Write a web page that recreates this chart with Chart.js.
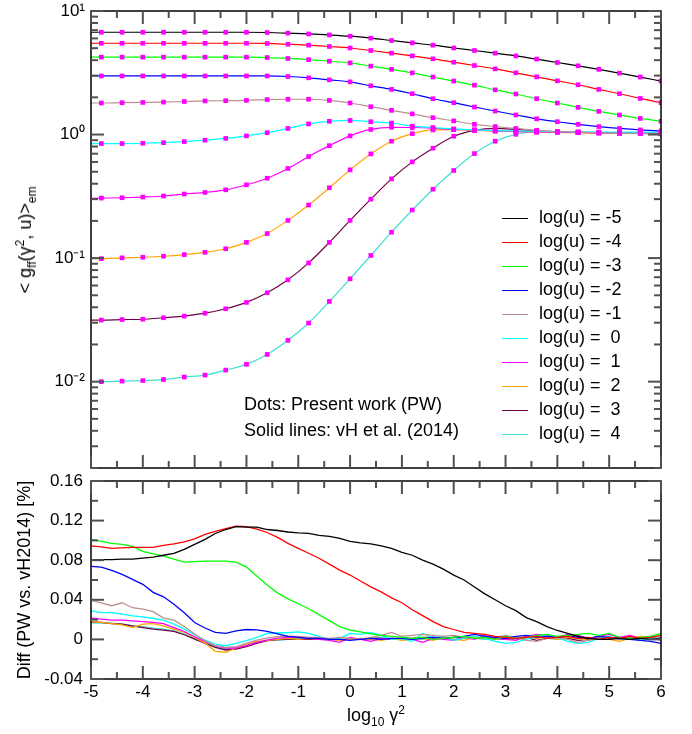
<!DOCTYPE html>
<html>
<head>
<meta charset="utf-8">
<script src="https://cdn.jsdelivr.net/npm/chart.js@4.4.1/dist/chart.umd.min.js"></script>
<style>
  body { margin: 0; background: #fff; font-family: "Liberation Sans", Arial, sans-serif; }
  #wrap { position: relative; width: 692px; height: 734px; overflow: hidden; }
  .box { position: absolute; left: 0; width: 692px; }
  #topBox { top: 0; height: 472px; }
  #botBox { top: 462px; height: 272px; }
  #tickLayer { position: absolute; left: 0; top: 0; z-index: 4; pointer-events: none; }
  .txt { position: absolute; font-size: 18px; line-height: 18px; white-space: pre; color: #000; z-index: 5; }
  .txt sub, .txt sup { font-size: 12px; line-height: 0; }
  .leg { position: absolute; z-index: 5; }
  .leg span.ln { position: absolute; left: 0; width: 26px; height: 1.2px; }
</style>
</head>
<body>
<div id="wrap">
  <div class="box" id="topBox"><canvas id="topChart"></canvas></div>
  <div class="box" id="botBox"><canvas id="botChart"></canvas></div>
  <canvas id="tickLayer" width="692" height="734"></canvas>
  <div class="txt" style="left:25px;top:240px;transform:translate(-50%,-50%) rotate(-90deg);">&lt; g<sub>ff</sub>(γ<sup>2</sup>, u)&gt;<sub>em</sub></div>
  <div class="txt" style="left:376px;top:706px;transform:translateX(-50%);">log<sub>10</sub> γ<sup>2</sup></div>
  <div class="txt" style="left:244px;top:395px;">Dots: Present work (PW)</div>
  <div class="txt" style="left:244px;top:421px;">Solid lines: vH et al. (2014)</div>
  <div id="legend"></div>
</div>
<script>
// log(u) values of the curves
const uLabels = ['-5', '-4', '-3', '-2', '-1', ' 0', ' 1', ' 2', ' 3', ' 4'];
const seriesColors = ['#000000', '#ff0000', '#00ff00', '#0000ff', '#bc8f8f',
                      '#00ffff', '#ff00ff', '#ffa500', '#700048', '#40e0d0'];

// top panel: x positions of the dots (log10 gamma^2); lines also start at -5
const xDots = [-4.8, -4.4, -4.0, -3.6, -3.2, -2.8, -2.4, -2.0, -1.6, -1.2, -0.8, -0.4, 0.0,
               0.4, 0.8, 1.2, 1.6, 2.0, 2.4, 2.8, 3.2, 3.6, 4.0, 4.4, 4.8, 5.2, 5.6, 6.0];
const xLine = [-5.0].concat(xDots);

// <g_ff> values at xLine
const gM5 = [6.73, 6.73, 6.73, 6.73, 6.73, 6.73, 6.73, 6.73, 6.73, 6.70, 6.62, 6.52, 6.40, 6.25,
             6.03, 5.77, 5.52, 5.29, 5.02, 4.79, 4.56, 4.33, 4.08, 3.83, 3.60, 3.37, 3.14, 2.92, 2.71];
const gM4 = [5.48, 5.48, 5.48, 5.48, 5.48, 5.48, 5.48, 5.48, 5.48, 5.46, 5.38, 5.29, 5.16, 5.02,
             4.79, 4.56, 4.33, 4.10, 3.85, 3.62, 3.40, 3.16, 2.93, 2.72, 2.53, 2.32, 2.14, 1.96, 1.81];
const gM3 = [4.23, 4.23, 4.23, 4.23, 4.23, 4.23, 4.23, 4.23, 4.23, 4.20, 4.13, 4.04, 3.92, 3.80,
             3.58, 3.37, 3.16, 2.92, 2.71, 2.51, 2.30, 2.13, 1.95, 1.80, 1.66, 1.54, 1.44, 1.35, 1.28];
const gM2 = [2.98, 2.98, 2.98, 2.98, 2.98, 2.98, 2.98, 2.98, 2.98, 2.98, 2.95, 2.88, 2.77, 2.67,
             2.48, 2.32, 2.14, 1.95, 1.81, 1.67, 1.55, 1.44, 1.34, 1.27, 1.21, 1.16, 1.12, 1.09, 1.07];
const gM1 = [1.80, 1.80, 1.81, 1.82, 1.83, 1.85, 1.87, 1.88, 1.89, 1.92, 1.93, 1.93, 1.89, 1.80,
             1.68, 1.57, 1.47, 1.37, 1.29, 1.21, 1.16, 1.12, 1.08, 1.06, 1.045, 1.03, 1.024, 1.016, 1.01];
const g0 = [0.845, 0.845, 0.845, 0.85, 0.86, 0.877, 0.90, 0.93, 0.975, 1.035, 1.12, 1.22, 1.28, 1.30,
            1.27, 1.24, 1.17, 1.14, 1.11, 1.09, 1.075, 1.07, 1.06, 1.055, 1.05, 1.048, 1.046, 1.045, 1.045];
const g1 = [0.305, 0.306, 0.308, 0.312, 0.318, 0.330, 0.340, 0.357, 0.392, 0.443, 0.531, 0.664, 0.813, 0.975,
            1.10, 1.145, 1.14, 1.125, 1.10, 1.09, 1.07, 1.06, 1.05, 1.045, 1.04, 1.035, 1.03, 1.03, 1.025];
const g2 = [0.099, 0.099, 0.1005, 0.1016, 0.1035, 0.1067, 0.1114, 0.119, 0.134, 0.158, 0.202, 0.269, 0.371, 0.518,
            0.697, 0.883, 1.016, 1.09, 1.095, 1.08, 1.065, 1.055, 1.045, 1.04, 1.035, 1.03, 1.03, 1.025, 1.025];
const g3 = [0.0315, 0.0315, 0.0318, 0.0320, 0.0329, 0.0339, 0.0358, 0.0389, 0.0438, 0.0524, 0.0667, 0.0914, 0.134, 0.202,
            0.300, 0.438, 0.601, 0.775, 0.968, 1.08, 1.12, 1.10, 1.07, 1.05, 1.04, 1.03, 1.025, 1.02, 1.02];
const g4 = [0.0100, 0.0100, 0.0101, 0.0102, 0.0104, 0.0109, 0.0113, 0.0124, 0.0138, 0.0166, 0.0216, 0.0298, 0.0446, 0.068,
            0.105, 0.162, 0.245, 0.361, 0.512, 0.701, 0.883, 1.004, 1.05, 1.055, 1.045, 1.035, 1.03, 1.025, 1.02];
const gTop = [gM5, gM4, gM3, gM2, gM1, g0, g1, g2, g3, g4];

// bottom panel: relative difference [%]
const xDiff = [-5.0, -4.8, -4.6, -4.4, -4.2, -4.0, -3.8, -3.6, -3.4, -3.2,
               -3.0, -2.8, -2.6, -2.4, -2.2, -2.0, -1.8, -1.6, -1.4, -1.2,
               -1.0, -0.8, -0.6, -0.4, -0.2, 0.0, 0.2, 0.4, 0.6, 0.8,
               1.0, 1.2, 1.4, 1.6, 1.8, 2.0, 2.2, 2.4, 2.6, 2.8,
               3.0, 3.2, 3.4, 3.6, 3.8, 4.0, 4.2, 4.4, 4.6, 4.8,
               5.0, 5.2, 5.4, 5.6, 5.8, 6.0];
const dM5 = [0.0800, 0.0805, 0.0805, 0.0810, 0.0810, 0.0820, 0.0830, 0.0850, 0.0870, 0.0910,
             0.0960, 0.1010, 0.1070, 0.1110, 0.1140, 0.1135, 0.1135, 0.1110, 0.1100, 0.1085,
             0.1075, 0.1070, 0.1050, 0.1040, 0.1020, 0.0990, 0.0975, 0.0965, 0.0945, 0.0920,
             0.0880, 0.0850, 0.0800, 0.0760, 0.0710, 0.0650, 0.0600, 0.0530, 0.0460, 0.0400,
             0.0340, 0.0290, 0.0220, 0.0180, 0.0130, 0.0090, 0.0060, 0.0030, 0.0010, 0.0000,
             0.0000, 0.0010, 0.0000, 0.0010, 0.0000, 0.0010];
const dM4 = [0.0945, 0.0935, 0.0920, 0.0925, 0.0930, 0.0930, 0.0930, 0.0950, 0.0965, 0.0985,
             0.1015, 0.1060, 0.1090, 0.1120, 0.1145, 0.1140, 0.1115, 0.1080, 0.1030, 0.0970,
             0.0920, 0.0870, 0.0820, 0.0760, 0.0700, 0.0650, 0.0590, 0.0530, 0.0480, 0.0420,
             0.0370, 0.0300, 0.0240, 0.0180, 0.0130, 0.0100, 0.0070, 0.0060, 0.0050, 0.0030,
             0.0020, 0.0010, 0.0020, 0.0030, 0.0010, 0.0020, 0.0030, 0.0010, 0.0020, 0.0000,
             0.0020, 0.0010, 0.0030, 0.0010, 0.0020, 0.0040];
const dM3 = [0.1010, 0.0990, 0.0970, 0.0960, 0.0940, 0.0890, 0.0865, 0.0840, 0.0810, 0.0780,
             0.0785, 0.0790, 0.0790, 0.0790, 0.0780, 0.0730, 0.0640, 0.0550, 0.0470, 0.0410,
             0.0360, 0.0310, 0.0250, 0.0190, 0.0130, 0.0095, 0.0075, 0.0055, 0.0040, 0.0030,
             0.0020, 0.0010, 0.0020, 0.0000, 0.0010, 0.0020, 0.0030, 0.0010, 0.0020, 0.0000,
             0.0030, 0.0010, 0.0020, 0.0040, 0.0050, 0.0030, 0.0040, 0.0050, 0.0060, 0.0040,
             0.0060, 0.0020, 0.0010, 0.0020, 0.0030, 0.0060];
const dM2 = [0.0737, 0.0730, 0.0697, 0.0657, 0.0606, 0.0556, 0.0475, 0.0430, 0.0355, 0.0270,
             0.0170, 0.0115, 0.0070, 0.0060, 0.0087, 0.0100, 0.0097, 0.0080, 0.0055, 0.0030,
             0.0020, 0.0010, 0.0010, 0.0000, 0.0000, -0.0010, 0.0000, 0.0010, 0.0000, 0.0010,
             0.0010, 0.0000, 0.0010, 0.0020, 0.0010, 0.0020, 0.0030, 0.0050, 0.0030, 0.0020,
             0.0010, 0.0030, 0.0040, 0.0020, 0.0030, 0.0020, 0.0040, 0.0020, 0.0010, 0.0030,
             0.0020, 0.0010, 0.0000, -0.0010, -0.0020, -0.0040];
const dM1 = [0.0395, 0.0370, 0.0340, 0.0370, 0.0320, 0.0305, 0.0280, 0.0215, 0.0195, 0.0130,
             0.0055, -0.0013, -0.0064, -0.0080, -0.0074, -0.0040, -0.0007, 0.0013, 0.0027, 0.0034,
             0.0030, 0.0020, 0.0020, 0.0010, 0.0020, 0.0010, 0.0000, 0.0020, 0.0040, 0.0070,
             0.0030, 0.0040, 0.0050, 0.0040, 0.0030, 0.0040, 0.0020, 0.0010, 0.0030, 0.0020,
             0.0040, 0.0020, -0.0010, -0.0020, 0.0010, 0.0020, 0.0000, -0.0030, -0.0010, 0.0010,
             0.0020, 0.0000, 0.0020, 0.0010, 0.0030, 0.0020];
const d0 = [0.0288, 0.0271, 0.0271, 0.0255, 0.0238, 0.0228, 0.0211, 0.0194, 0.0154, 0.0104,
            0.0047, -0.0007, -0.0047, -0.0064, -0.0040, -0.0013, 0.0020, 0.0060, 0.0067, 0.0067,
            0.0075, 0.0060, 0.0030, 0.0000, 0.0010, 0.0060, 0.0050, 0.0070, 0.0040, 0.0000,
            0.0010, -0.0020, 0.0060, 0.0020, 0.0030, -0.0010, 0.0010, 0.0030, 0.0010, -0.0020,
            -0.0040, -0.0030, 0.0000, 0.0030, 0.0050, 0.0020, -0.0020, -0.0040, -0.0030, 0.0010,
            0.0030, 0.0000, 0.0020, -0.0010, 0.0010, 0.0020];
const d1 = [0.0214, 0.0204, 0.0194, 0.0194, 0.0188, 0.0180, 0.0171, 0.0160, 0.0120, 0.0080,
            0.0027, -0.0020, -0.0064, -0.0087, -0.0087, -0.0064, -0.0030, -0.0007, 0.0013, 0.0020,
            0.0020, 0.0010, 0.0000, -0.0010, -0.0030, 0.0020, 0.0000, -0.0020, 0.0010, 0.0000,
            0.0020, 0.0000, -0.0030, 0.0010, 0.0000, -0.0010, 0.0020, 0.0000, 0.0040, 0.0010,
            0.0000, -0.0010, 0.0030, 0.0050, 0.0040, 0.0020, 0.0050, 0.0040, 0.0010, 0.0030,
            0.0050, 0.0020, 0.0040, 0.0010, 0.0030, -0.0010];
const d2 = [0.0178, 0.0171, 0.0160, 0.0147, 0.0120, 0.0154, 0.0160, 0.0137, 0.0104, 0.0070,
            0.0020, -0.0037, -0.0120, -0.0130, -0.0087, -0.0047, -0.0020, -0.0010, 0.0000, 0.0010,
            0.0000, 0.0010, 0.0000, 0.0000, -0.0010, 0.0000, 0.0010, 0.0000, -0.0010, 0.0010,
            -0.0010, 0.0000, 0.0010, -0.0010, 0.0020, 0.0000, -0.0010, 0.0020, 0.0010, 0.0000,
            0.0020, 0.0010, 0.0030, 0.0010, 0.0020, 0.0000, 0.0020, 0.0010, -0.0010, 0.0020,
            0.0000, -0.0020, 0.0010, 0.0030, 0.0020, 0.0020];
const d3 = [0.0178, 0.0171, 0.0160, 0.0154, 0.0137, 0.0120, 0.0104, 0.0094, 0.0080, 0.0047,
            0.0003, -0.0040, -0.0080, -0.0107, -0.0097, -0.0074, -0.0040, -0.0013, -0.0003, 0.0000,
            0.0000, 0.0000, 0.0000, 0.0000, 0.0000, 0.0000, 0.0000, 0.0010, 0.0010, 0.0000,
            0.0010, 0.0010, 0.0020, 0.0020, 0.0010, 0.0020, 0.0020, 0.0020, 0.0010, 0.0010,
            0.0000, 0.0010, 0.0020, -0.0010, 0.0010, 0.0020, 0.0010, -0.0010, 0.0000, 0.0010,
            0.0010, 0.0020, 0.0010, 0.0010, 0.0020, 0.0010];
const d4 = [0.0168, 0.0165, 0.0165, 0.0155, 0.0137, 0.0130, 0.0114, 0.0104, 0.0087, 0.0054,
            0.0010, -0.0030, -0.0074, -0.0097, -0.0087, -0.0064, -0.0030, -0.0013, -0.0007, 0.0000,
            0.0010, 0.0000, 0.0010, 0.0000, -0.0010, 0.0010, 0.0000, 0.0010, 0.0020, 0.0010,
            0.0000, 0.0010, 0.0000, 0.0020, 0.0010, 0.0000, 0.0020, 0.0010, 0.0000, 0.0010,
            0.0010, 0.0000, 0.0020, 0.0030, 0.0010, 0.0000, 0.0010, 0.0020, 0.0010, 0.0000,
            0.0010, 0.0020, 0.0000, 0.0010, 0.0020, 0.0010];
const dBottom = [dM5, dM4, dM3, dM2, dM1, d0, d1, d2, d3, d4];

// tick labels
const yTopDecades = [0.01, 0.1, 1, 10];
const yTopDecadeLabels = ['10\u207B\u00B2', '10\u207B\u00B9', '10\u2070', '10\u00B9'];

Chart.defaults.font.family = "'Liberation Sans', Arial, sans-serif";
Chart.defaults.font.size = 17;
Chart.defaults.color = '#000';

const isDecade = v => Math.abs(Math.log10(v) - Math.round(Math.log10(v))) < 1e-6;
const isMajorDiff = v => Math.round(v * 100) % 4 === 0;

// black frame round each plot area
const framePlugin = {
  id: 'frame',
  afterDraw(chart) {
    const { ctx, chartArea: a } = chart;
    ctx.save();
    ctx.strokeStyle = '#000';
    ctx.lineWidth = 1.5;
    ctx.strokeRect(a.left, a.top, a.right - a.left, a.bottom - a.top);
    ctx.restore();
  }
};

// inward tick marks on all four sides, placed from the charts' own scales
function drawTicks(layerCtx, chart, offsetY, isMajorY) {
  const a = chart.chartArea;
  const xs = chart.scales.x, ys = chart.scales.y;
  const w = 2;
  layerCtx.fillStyle = '#505050';
  xs.ticks.forEach(t => {
    const px = xs.getPixelForValue(t.value);
    const len = Math.abs(t.value - Math.round(t.value)) < 1e-6 ? 13 : 7;
    layerCtx.fillRect(px - w / 2, offsetY + a.bottom - len, w, len);
    layerCtx.fillRect(px - w / 2, offsetY + a.top, w, len);
  });
  ys.ticks.forEach(t => {
    const py = ys.getPixelForValue(t.value);
    const len = isMajorY(t.value) ? 13 : 7;
    layerCtx.fillRect(a.left, offsetY + py - w / 2, len, w);
    layerCtx.fillRect(a.right - len, offsetY + py - w / 2, len, w);
  });
}

// top panel
const yTopTicks = [];
for (let e = -3; e <= 0; e++) {
  for (let m = 1; m <= 9; m++) {
    const v = +(m * Math.pow(10, e)).toPrecision(3);
    if (v >= 0.002) yTopTicks.push(v);
  }
}
yTopTicks.push(10);

const topSets = [];
gTop.forEach((vals, i) => {
  topSets.push({
    data: xLine.map((x, k) => ({ x, y: vals[k] })),
    borderColor: seriesColors[i],
    borderWidth: 1.2,
    pointRadius: 0,
    cubicInterpolationMode: 'monotone',
    order: 1
  });
});
gTop.forEach(vals => {
  topSets.push({
    data: xDots.map((x, k) => ({ x, y: vals[k + 1] })),
    showLine: false,
    pointStyle: 'rect',
    pointRadius: 3.3,
    pointBorderWidth: 0,
    pointBackgroundColor: '#ff00ff',
    order: 0
  });
});

const topChart = new Chart(document.getElementById('topChart'), {
  type: 'line',
  data: { datasets: topSets },
  options: {
    responsive: true,
    maintainAspectRatio: false,
    animation: false,
    layout: { autoPadding: false, padding: { top: 11, right: 31, bottom: 0, left: 0 } },
    plugins: { legend: { display: false }, tooltip: { enabled: false } },
    scales: {
      x: {
        type: 'linear', min: -5, max: 6,
        ticks: { display: false, stepSize: 0.5, autoSkip: false },
        grid: { display: false, drawTicks: false },
        border: { display: false },
        afterFit: s => { s.height = 4; s.paddingLeft = 0; s.paddingRight = 0; }
      },
      y: {
        type: 'logarithmic', min: 0.002, max: 10,
        afterBuildTicks: s => { s.ticks = yTopTicks.map(v => ({ value: v })); },
        ticks: {
          autoSkip: false, padding: 6,
          callback: v => {
            const i = yTopDecades.findIndex(d => Math.abs(d - v) < d * 1e-6);
            return i >= 0 ? yTopDecadeLabels[i] : '';
          }
        },
        grid: { display: false, drawTicks: false },
        border: { display: false },
        afterFit: s => { s.width = 91; s.paddingTop = 0; s.paddingBottom = 0; }
      }
    }
  },
  plugins: [framePlugin]
});

// bottom panel
const botSets = dBottom.map((vals, i) => ({
  data: xDiff.map((x, k) => ({ x, y: vals[k] })),
  borderColor: seriesColors[i],
  borderWidth: 1.3,
  pointRadius: 0,
  tension: 0
}));

const botChart = new Chart(document.getElementById('botChart'), {
  type: 'line',
  data: { datasets: botSets },
  options: {
    responsive: true,
    maintainAspectRatio: false,
    animation: false,
    layout: { autoPadding: false, padding: { top: 19, right: 31, bottom: 0, left: 0 } },
    plugins: { legend: { display: false }, tooltip: { enabled: false } },
    scales: {
      x: {
        type: 'linear', min: -5, max: 6,
        ticks: {
          stepSize: 0.5, autoSkip: false, maxRotation: 0, padding: 3,
          callback: v => Number.isInteger(v) ? String(v) : ''
        },
        grid: { display: false, drawTicks: false },
        border: { display: false },
        afterFit: s => { s.height = 55; s.paddingLeft = 0; s.paddingRight = 0; }
      },
      y: {
        type: 'linear', min: -0.04, max: 0.16,
        ticks: {
          stepSize: 0.02, autoSkip: false, padding: 8,
          callback: v => {
            const r = Math.round(v * 100);
            if (r % 4 !== 0) return '';
            return r === 0 ? '0' : (r / 100).toFixed(2);
          }
        },
        title: {
          display: true, text: 'Diff (PW vs. vH2014) [%]',
          font: { size: 18 }, padding: { top: 14, bottom: 0 }
        },
        grid: { display: false, drawTicks: false },
        border: { display: false },
        afterFit: s => { s.width = 91; s.paddingTop = 0; s.paddingBottom = 0; }
      }
    }
  },
  plugins: [framePlugin]
});

// tick marks on a separate layer above both charts
const layer = document.getElementById('tickLayer').getContext('2d');
drawTicks(layer, topChart, 0, isDecade);
drawTicks(layer, botChart, 462, isMajorDiff);

// legend (inside the top panel)
const legend = document.getElementById('legend');
uLabels.forEach((u, i) => {
  const row = document.createElement('div');
  row.className = 'leg';
  row.style.left = '502px';
  row.style.top = (208 + 24 * i) + 'px';
  row.innerHTML = '<span class="ln" style="top:10px;background:' + seriesColors[i] + '"></span>' +
                  '<span class="txt" style="left:37px;top:0">log(u) = ' + u + '</span>';
  legend.appendChild(row);
});
</script>
</body>
</html>
